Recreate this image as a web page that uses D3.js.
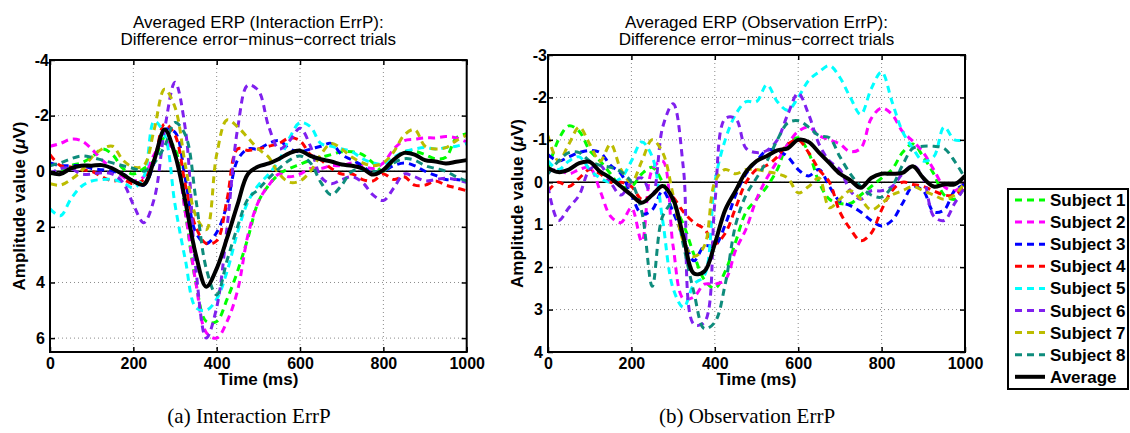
<!DOCTYPE html>
<html><head><meta charset="utf-8">
<script src="https://cdn.jsdelivr.net/npm/d3@7/dist/d3.min.js"></script>
<style>body{margin:0;background:#fff}svg{display:block}</style>
</head><body>
<svg id="c" width="1130" height="433"></svg>
<script>
// ---------- DATA ----------
const times = [0,25,50,75,100,125,150,175,200,225,250,275,300,325,350,375,400,425,450,475,500,525,550,575,600,625,650,675,700,725,750,775,800,825,850,875,900,925,950,975,1000];
const seriesNames = ["Subject 1","Subject 2","Subject 3","Subject 4","Subject 5","Subject 6","Subject 7","Subject 8","Average"];
const seriesColors = ["#00ff00","#ff00ff","#0000ff","#ff0000","#00ffff","#8020ee","#bcbc00","#0e8c7c","#000000"];
const xTicks = [0,200,400,600,800,1000];
const yTicksInteraction = [-4,-2,0,2,4,6];
const yTicksObservation = [-3,-2,-1,0,1,2,3,4];

// Interaction ErrP (panel a)
const iSub1 = [0.1,0.0,-0.2,-0.3,-0.5,-0.8,-0.6,-0.1,0.1,-0.1,-0.4,-1.2,-0.8,1.5,4.0,5.4,5.4,4.6,3.6,2.4,1.1,0.5,0.1,-0.1,-0.25,-0.4,-0.5,-0.6,-0.7,-0.7,-0.6,-0.3,0.0,-0.4,-0.7,-0.72,-0.6,-0.45,-0.5,-1.2,-1.35];
const iSub2 = [-0.9,-1.0,-1.15,-1.1,-0.8,-0.4,-0.1,0.2,0.35,0.2,-0.6,-1.1,-0.6,1.5,4.0,5.8,6.0,5.4,4.3,2.3,1.1,0.5,0.1,0.2,0.1,-0.1,-0.1,-0.2,-0.2,-0.3,-0.2,-0.1,-0.3,-0.8,-1.1,-1.15,-1.2,-1.2,-1.25,-1.2,-1.05];
const iSub3 = [-0.3,-0.2,-0.2,-0.2,-0.1,-0.05,0.0,0.1,0.35,0.5,-0.3,-1.5,-1.4,0.3,2.2,2.6,2.2,1.2,-0.4,-0.8,-0.8,-1.0,-1.1,-0.8,-0.7,-0.8,-0.9,-1.0,-0.6,-0.4,-0.2,0.1,0.0,-0.2,-0.3,-0.2,0.0,0.15,0.3,0.3,0.35];
const iSub4 = [-0.6,-0.2,-0.15,-0.05,0.0,0.2,0.35,0.3,0.45,0.3,-0.4,-1.7,-1.3,0.5,2.0,2.6,2.5,1.0,-0.8,-0.75,-0.8,-0.9,-1.0,-1.2,-1.1,-0.6,-0.4,-0.1,0.1,0.1,0.3,0.35,0.1,0.3,0.2,0.5,0.5,0.35,0.5,0.6,0.7];
const iSub5 = [1.35,1.6,1.0,0.55,0.35,0.3,0.3,0.4,0.6,0.2,-1.8,-1.3,1.2,3.2,4.9,5.0,4.6,3.6,2.2,1.1,0.5,0.1,-0.4,-1.2,-1.75,-1.6,-1.0,-0.9,-0.8,-0.7,-0.45,-0.3,-0.25,-0.5,-0.7,-0.8,-0.85,-0.8,-0.85,-0.9,-1.0];
const iSub6 = [0.1,-0.1,-0.1,0.1,0.1,0.05,0.1,0.4,1.2,1.85,1.0,-1.5,-3.2,-1.5,3.5,6.0,4.9,2.0,-1.5,-3.1,-2.9,-1.6,-0.8,-1.1,-1.55,-0.9,0.2,0.45,0.3,0.2,0.4,0.85,1.05,0.6,0.1,0.2,0.35,0.3,0.25,0.3,0.4];
const iSub7 = [0.45,0.5,0.3,0.0,-0.5,-0.8,-0.9,-0.4,-0.15,-0.2,-1.5,-2.95,-2.3,-0.2,1.6,2.1,-0.6,-1.85,-1.6,-1.2,-0.8,-0.5,0.1,0.4,0.35,0.0,-0.6,-1.0,-0.8,-0.5,-0.3,-0.2,-0.3,-0.7,-1.3,-1.5,-0.9,-0.8,-0.85,-1.1,-1.3];
const iSub8 = [-0.2,-0.3,-0.45,-0.55,-0.5,-0.4,-0.3,-0.2,-0.1,0.0,-0.3,-0.9,-1.75,-1.3,1.0,3.5,4.45,3.2,2.0,1.0,0.65,0.25,-0.1,-0.4,-0.55,-0.3,0.4,0.85,0.5,0.0,-0.05,0.0,0.0,-0.3,-0.45,-0.4,-0.2,-0.1,0.0,0.2,0.35];
const iAvg  = [0.05,0.1,-0.1,-0.2,-0.2,-0.22,-0.1,0.12,0.36,0.48,-0.4,-1.5,-0.6,1.1,3.0,4.15,3.5,2.4,1.2,0.1,-0.17,-0.28,-0.45,-0.65,-0.74,-0.55,-0.43,-0.35,-0.24,-0.2,-0.1,0.12,-0.05,-0.42,-0.66,-0.6,-0.4,-0.35,-0.28,-0.34,-0.4];

// Observation ErrP (panel b)
const oSub1 = [-0.3,-1.0,-1.33,-1.2,-0.75,-0.5,-0.2,0.1,0.1,-0.2,-0.35,0.0,0.5,1.0,1.7,2.3,2.5,2.1,1.4,0.7,0.4,0.1,-0.3,-0.9,-1.05,-0.7,0.0,0.4,0.5,0.5,0.3,0.1,-0.1,-0.3,-0.7,-0.9,-0.6,-0.2,0.3,0.4,0.1];
const oSub2 = [-0.25,-0.3,-0.2,-0.3,-0.35,0.2,0.8,0.95,0.6,1.4,-0.3,-0.5,1.5,2.75,2.7,2.4,2.4,2.3,1.6,1.1,0.4,-0.1,-0.5,-0.9,-1.2,-1.3,-1.1,-1.0,-0.9,-0.72,-0.8,-1.5,-1.75,-1.6,-1.2,-0.97,-0.7,-0.3,0.1,0.2,0.0];
const oSub3 = [-0.65,-0.5,-0.6,-0.7,-0.75,-0.7,-0.4,-0.2,0.3,0.75,0.65,0.2,0.7,1.3,1.85,1.5,1.5,1.0,0.3,-0.2,-0.5,-0.75,-0.75,-0.6,-0.3,-0.15,-0.3,0.1,0.45,0.55,0.7,0.9,1.03,0.9,0.5,0.1,0.2,0.7,0.65,0.2,0.05];
const oSub4 = [0.2,0.0,0.1,-0.1,-0.3,-0.2,0.0,0.0,0.1,0.4,0.3,0.1,0.35,0.7,0.95,1.1,1.45,1.2,0.6,0.0,-0.3,-0.4,-0.6,-0.9,-1.0,-0.7,-0.3,0.0,0.7,1.1,1.38,1.2,0.65,0.2,0.0,0.05,0.1,0.2,0.3,0.3,0.1];
const oSub5 = [-0.5,-0.3,-0.5,-0.6,-0.3,-0.1,0.0,-0.1,-0.5,-0.95,-0.6,0.9,2.5,2.95,2.4,2.2,0.0,-1.0,-1.6,-1.9,-1.9,-2.3,-1.9,-1.7,-2.0,-2.4,-2.6,-2.75,-2.47,-2.0,-1.6,-2.2,-2.6,-1.9,-1.2,-0.8,-0.5,-0.6,-1.3,-1.0,-1.0];
const oSub6 = [0.1,0.9,0.6,0.3,-0.3,-0.4,0.0,0.3,0.0,-0.1,0.3,-1.3,-1.85,-0.3,3.35,3.3,0.5,-1.5,-1.5,-0.8,-0.7,-0.75,-1.0,-1.6,-2.1,-1.6,-0.9,-0.5,-0.3,0.2,0.4,0.2,0.2,0.1,-0.2,-0.4,-0.1,0.8,0.9,0.5,0.1];
const oSub7 = [-1.1,-0.5,-0.9,-1.3,-0.9,-0.5,-0.9,-0.3,0.0,-0.5,-1.0,-0.7,0.3,1.4,1.75,1.5,0.0,-0.3,-0.2,-0.3,-0.3,-0.25,-0.2,-0.1,0.25,0.1,-0.1,0.6,0.4,0.2,0.4,0.65,0.5,0.3,0.2,0.1,0.2,0.3,0.4,0.3,0.0];
const oSub8 = [-0.2,-0.5,-0.7,-0.7,-0.5,-0.4,-0.35,-0.25,0.0,0.7,2.45,0.8,0.5,1.5,2.6,3.45,3.3,2.4,1.0,0.3,-0.1,-0.5,-1.0,-1.4,-1.45,-1.3,-1.1,-1.05,-0.6,-0.2,0.1,0.3,0.35,0.1,-0.4,-0.8,-0.85,-0.85,-0.8,-0.5,-0.1];
const oAvg  = [-0.34,-0.24,-0.3,-0.45,-0.48,-0.25,-0.1,0.1,0.3,0.48,0.3,0.09,0.4,1.3,2.15,2.1,1.45,0.65,0.2,-0.25,-0.5,-0.62,-0.75,-0.8,-1.0,-0.95,-0.7,-0.45,-0.2,-0.05,0.13,-0.1,-0.2,-0.2,-0.22,-0.38,-0.1,0.1,0.05,0.05,-0.15];

const interactionSeries = [iSub1,iSub2,iSub3,iSub4,iSub5,iSub6,iSub7,iSub8,iAvg];
const observationSeries = [oSub1,oSub2,oSub3,oSub4,oSub5,oSub6,oSub7,oSub8,oAvg];

// ---------- DRAW ----------
const svg = d3.select('#c');
svg.append('rect').attr('width',1130).attr('height',433).attr('fill','#fff');
const SANS = 'Helvetica, "Liberation Sans", Arial, sans-serif';
const SERIF = '"Liberation Serif", "Times New Roman", serif';

function panel(cfg){
  const x = d3.scaleLinear().domain([0,1000]).range([cfg.x0,cfg.x1]);
  const y = d3.scaleLinear().domain(cfg.yDomain).range([cfg.y0,cfg.y1]);
  const g = svg.append('g');
  const clipId = 'clip'+cfg.id;
  g.append('clipPath').attr('id',clipId).append('rect')
    .attr('x',cfg.x0).attr('y',cfg.y0).attr('width',cfg.x1-cfg.x0).attr('height',cfg.y1-cfg.y0);

  // grid
  const gx = xTicks.filter(t=>x(t)>cfg.x0+1 && x(t)<cfg.x1-1);
  const gy = cfg.yTicks.filter(t=>y(t)>cfg.y0+1 && y(t)<cfg.y1-1);
  g.append('g').selectAll('line').data(gx).join('line')
    .attr('x1',d=>x(d)).attr('x2',d=>x(d)).attr('y1',cfg.y0).attr('y2',cfg.y1)
    .attr('stroke','#8a8a8a').attr('stroke-width',1).attr('stroke-dasharray','1,3');
  g.append('g').selectAll('line').data(gy).join('line')
    .attr('y1',d=>y(d)).attr('y2',d=>y(d)).attr('x1',cfg.x0).attr('x2',cfg.x1)
    .attr('stroke','#8a8a8a').attr('stroke-width',1).attr('stroke-dasharray','1,3');

  // zero line
  g.append('line').attr('x1',x(0)).attr('x2',x(1000)).attr('y1',y(0)).attr('y2',y(0))
    .attr('stroke','#000').attr('stroke-width',1.5);

  // series
  const line = d3.line().x((d,i)=>x(times[i])).y(d=>y(d)).curve(d3.curveCatmullRom.alpha(0.5));
  const lg = g.append('g').attr('clip-path','url(#'+clipId+')');
  cfg.series.forEach((s,k)=>{
    const avg = k===8;
    lg.append('path').attr('d',line(s)).attr('fill','none')
      .attr('stroke',seriesColors[k]).attr('stroke-width',avg?4:3)
      .attr('stroke-dasharray',avg?null:'7,5').attr('stroke-linejoin','round');
  });

  // axes
  const tickFont = g=>g.selectAll('text').attr('font-family',SANS).attr('font-weight','bold').attr('font-size',16).attr('fill','#000');
  const xa = g.append('g').attr('transform',`translate(0,${cfg.y1})`)
    .call(d3.axisBottom(x).tickValues(xTicks).tickSize(-5).tickPadding(6).tickFormat(d3.format('d')));
  xa.select('.domain').remove(); xa.call(tickFont);
  xa.selectAll('line').attr('stroke','#000').attr('stroke-width',1.5);
  const xt = g.append('g').attr('transform',`translate(0,${cfg.y0})`)
    .call(d3.axisTop(x).tickValues(xTicks).tickSize(-5).tickFormat(''));
  xt.select('.domain').remove(); xt.selectAll('line').attr('stroke','#000').attr('stroke-width',1.5);

  const ya = g.append('g').attr('transform',`translate(${cfg.x0},0)`)
    .call(d3.axisLeft(y).tickValues(cfg.yTicks).tickSize(-5).tickPadding(5).tickFormat(d=>d<0?'-'+Math.abs(d):String(d)));
  ya.select('.domain').remove(); ya.call(tickFont);
  ya.selectAll('text').attr('x',d=>d<0?-1:-5);
  ya.selectAll('line').attr('stroke','#000').attr('stroke-width',1.5);
  const yr = g.append('g').attr('transform',`translate(${cfg.x1},0)`)
    .call(d3.axisRight(y).tickValues(cfg.yTicks).tickSize(-5).tickFormat(''));
  yr.select('.domain').remove(); yr.selectAll('line').attr('stroke','#000').attr('stroke-width',1.5);

  // box
  g.append('rect').attr('x',cfg.x0).attr('y',cfg.y0).attr('width',cfg.x1-cfg.x0).attr('height',cfg.y1-cfg.y0)
    .attr('fill','none').attr('stroke','#000').attr('stroke-width',2);

  // labels
  const cx = (cfg.x0+cfg.x1)/2;
  g.append('text').attr('x',cx).attr('y',385).attr('text-anchor','middle')
    .attr('font-family',SANS).attr('font-weight','bold').attr('font-size',17).text('Time (ms)');
  const yl = g.append('text').attr('transform',`translate(${cfg.x0-25},${(cfg.y0+cfg.y1)/2}) rotate(-90)`)
    .attr('text-anchor','middle').attr('font-family',SANS).attr('font-weight','bold').attr('font-size',17);
  yl.append('tspan').text('Amplitude value (');
  yl.append('tspan').attr('font-style','italic').text('μ');
  yl.append('tspan').text('V)');

  g.append('text').attr('x',cx).attr('y',28).attr('text-anchor','middle')
    .attr('font-family',SANS).attr('font-size',17).text(cfg.title1);
  g.append('text').attr('x',cx).attr('y',45).attr('text-anchor','middle')
    .attr('font-family',SANS).attr('font-size',17).text(cfg.title2);

  g.append('text').attr('x',cfg.capX).attr('y',423).attr('text-anchor','middle')
    .attr('font-family',SERIF).attr('font-size',21).text(cfg.caption);
}

panel({id:'a',x0:50,x1:466.7,y0:60,y1:352,yDomain:[-4,6.5],yTicks:yTicksInteraction,series:interactionSeries,
  title1:'Averaged ERP (Interaction ErrP):',title2:'Difference error\u2212minus\u2212correct trials',caption:'(a) Interaction ErrP',capX:249});
panel({id:'b',x0:548,x1:965,y0:55,y1:352,yDomain:[-3,4],yTicks:yTicksObservation,series:observationSeries,
  title1:'Averaged ERP (Observation ErrP):',title2:'Difference error\u2212minus\u2212correct trials',caption:'(b) Observation ErrP',capX:747});

// legend
const lgd = svg.append('g');
lgd.append('rect').attr('x',1008).attr('y',189).attr('width',120).attr('height',200)
  .attr('fill','#fff').attr('stroke','#000').attr('stroke-width',2);
seriesNames.forEach((n,k)=>{
  const yy = 200 + k*22.1;
  const avg = k===8;
  lgd.append('line').attr('x1',1015).attr('x2',1045).attr('y1',yy).attr('y2',yy)
    .attr('stroke',seriesColors[k]).attr('stroke-width',avg?4:3).attr('stroke-dasharray',avg?null:'7,5');
  lgd.append('text').attr('x',1050).attr('y',yy+6).attr('font-family',SANS).attr('font-weight','bold')
    .attr('font-size',17).text(n);
});
</script>
</body></html>
